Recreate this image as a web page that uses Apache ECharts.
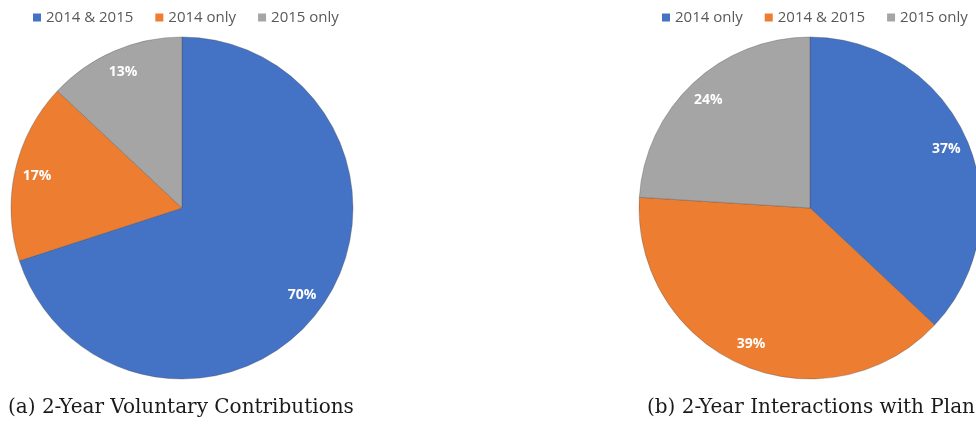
<!DOCTYPE html>
<html><head><meta charset="utf-8">
<script src="https://cdn.jsdelivr.net/npm/echarts@6/dist/echarts.min.js"></script>
<style>html,body{margin:0;padding:0;background:#fff}#c{width:976px;height:427px}</style>
</head><body><div id="c"></div>
<script>
const namesA = ['2014 & 2015', '2014 only', '2015 only'];
const valuesA = [70, 17, 13];
const colorsA = ['#4472C4', '#ED7D31', '#A5A5A5'];
const captionA = '(a) 2-Year Voluntary Contributions';

const namesB = ['2014 only', '2014 & 2015', '2015 only'];
const valuesB = [37, 39, 24];
const colorsB = ['#4472C4', '#ED7D31', '#A5A5A5'];
const captionB = '(b) 2-Year Interactions with Plan';

const R = 171;
function mk(names, values, colors) {
  return names.map((n, i) => ({ name: n, value: values[i], itemStyle: { color: colors[i] } }));
}
function pieSeries(names, values, colors, cx) {
  return [{
    type: 'pie', center: [cx, 208], radius: [0, R], startAngle: 90, clockwise: true,
    silent: true, animation: false,
    label: { show: false }, labelLine: { show: false },
    itemStyle: { borderColor: 'rgba(70,70,70,0.55)', borderWidth: 0.6 },
    data: mk(names, values, colors)
  }, {
    type: 'pie', center: [cx, 208], radius: [120, R], startAngle: 90, clockwise: true,
    silent: true, animation: false,
    itemStyle: { color: 'rgba(0,0,0,0)' },
    label: { show: true, position: 'inside', formatter: '{c}%', color: '#fff',
      fontFamily: 'Open Sans', fontWeight: 'bold', fontSize: 14 },
    labelLine: { show: false },
    data: names.map((n, i) => ({ name: n, value: values[i], itemStyle: { color: 'rgba(0,0,0,0)' } }))
  }];
}
function legend(names, colors, left) {
  return {
    left: left, top: 10, width: 400, padding: 0, itemWidth: 8, itemHeight: 8, itemGap: 22, icon: 'rect',
    selectedMode: false,
    itemStyle: { borderWidth: 0 },
    textStyle: { color: '#595959', fontFamily: 'Open Sans', fontSize: 15 },
    data: names.map((n, i) => ({ name: n, itemStyle: { color: colors[i], borderWidth: 0 } }))
  };
}
const capStyle = { fontFamily: 'DejaVu Serif', fontWeight: 'normal', fontSize: 20, color: '#1a1a1a' };
const chart = echarts.init(document.getElementById('c'), null, { renderer: 'canvas' });
chart.setOption({
  animation: false,
  legend: [legend(namesA, colorsA, 33), legend(namesB, colorsB, 662)],
  title: [
    { text: captionA, left: 8, top: 398, padding: 0, textStyle: capStyle },
    { text: captionB, left: 647, top: 398, padding: 0, textStyle: capStyle }
  ],
  series: [...pieSeries(namesA, valuesA, colorsA, 182), ...pieSeries(namesB, valuesB, colorsB, 810)]
});
</script></body></html>
